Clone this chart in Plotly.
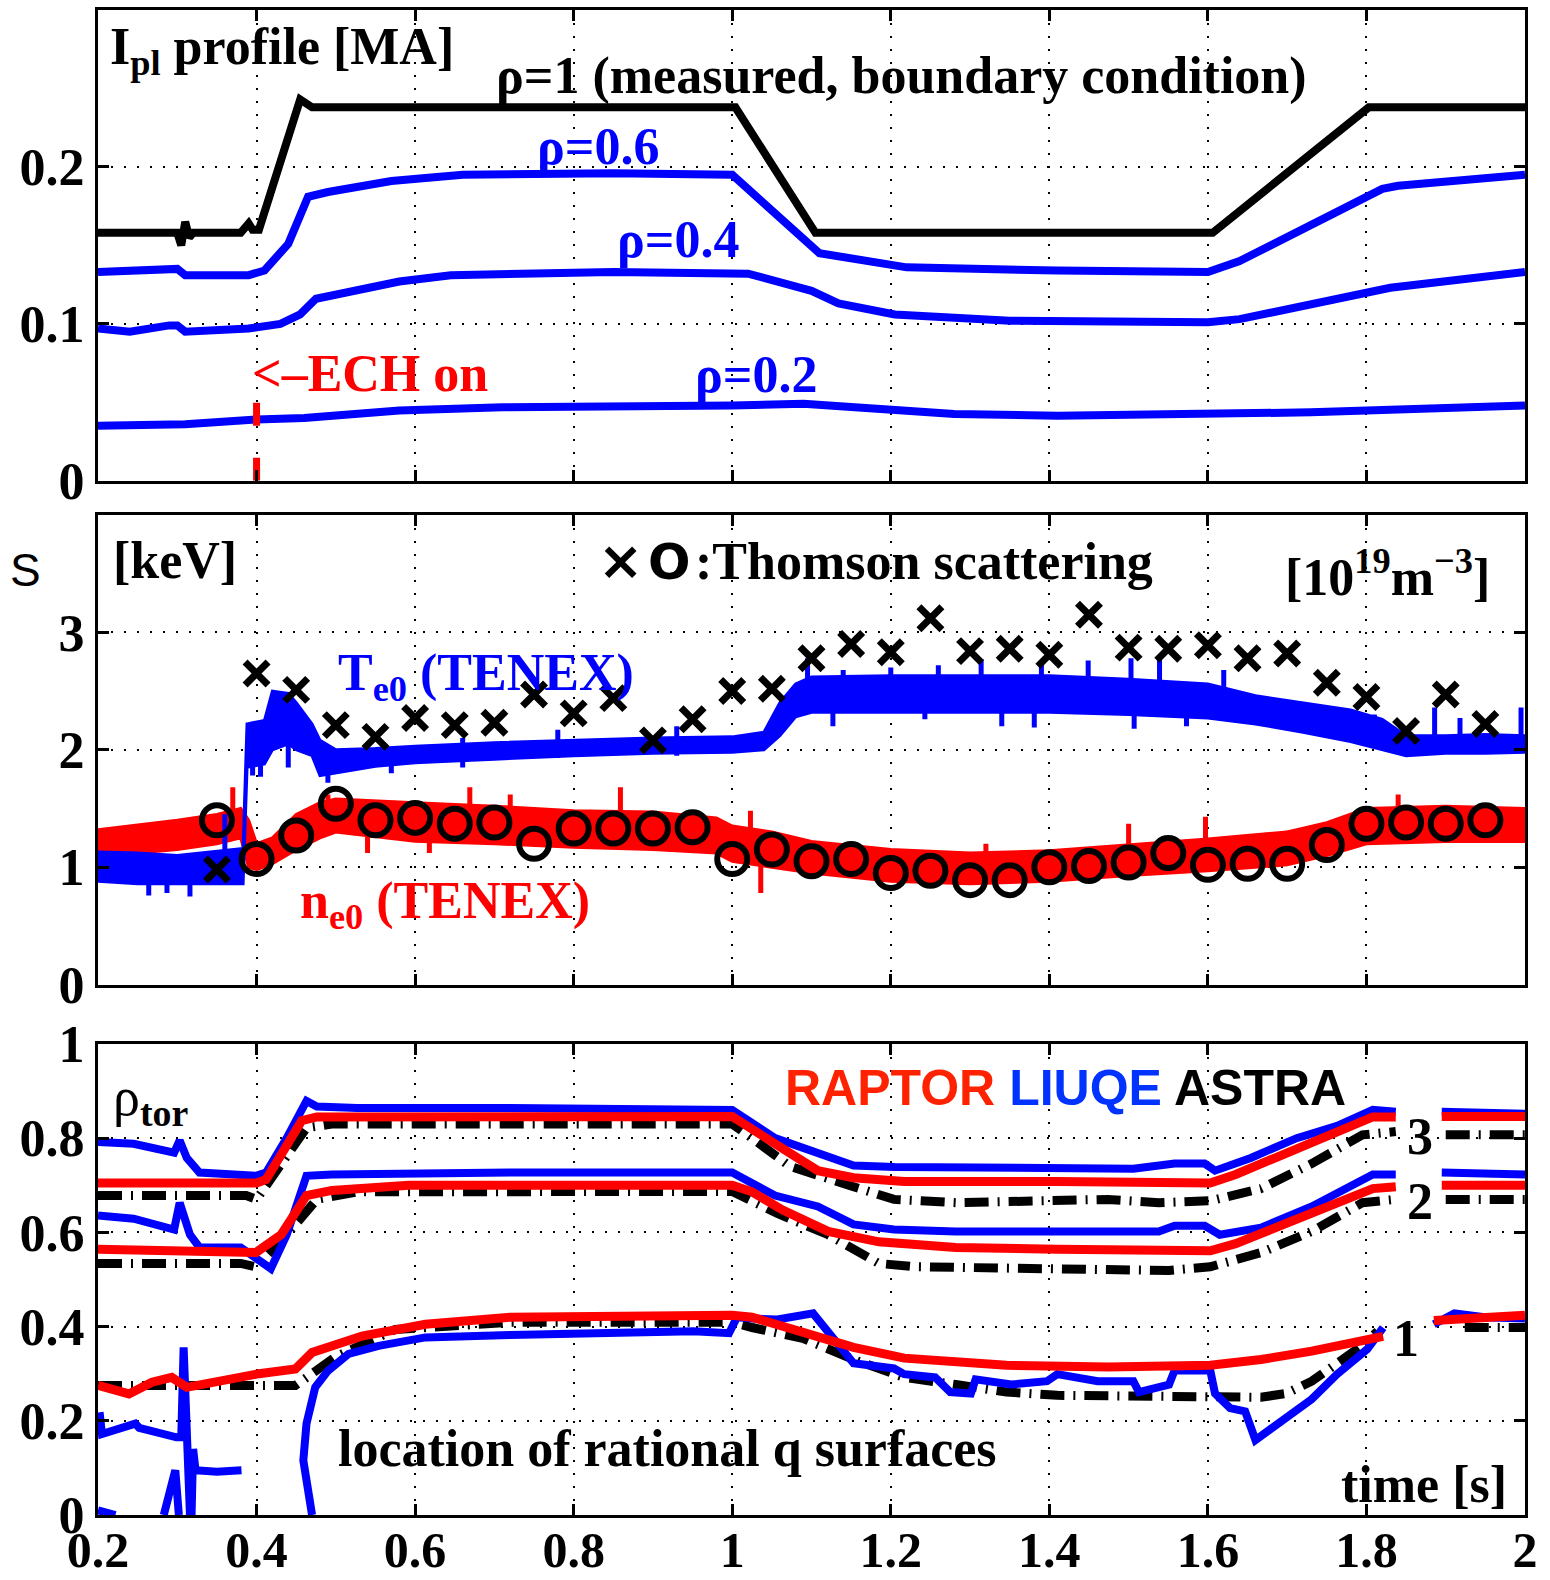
import plotly.graph_objects as go

# ---------------- Panel 1 : current profile [MA] ----------------
rho1_t = [0.20, 0.30, 0.305, 0.31, 0.315, 0.32, 0.38, 0.39, 0.395, 0.403, 0.455, 0.47, 1.004, 1.105, 1.606, 1.803, 2.00]
rho1_v = [0.158, 0.158, 0.150, 0.165, 0.155, 0.158, 0.158, 0.164, 0.160, 0.160, 0.243, 0.238, 0.238, 0.158, 0.158, 0.238, 0.238]

rho06_t = [0.20, 0.30, 0.31, 0.32, 0.39, 0.41, 0.44, 0.465, 0.49, 0.57, 0.66, 0.85, 1.00, 1.11, 1.22, 1.41, 1.60, 1.64, 1.82, 1.84, 2.00]
rho06_v = [0.133, 0.135, 0.131, 0.131, 0.131, 0.134, 0.151, 0.181, 0.184, 0.191, 0.195, 0.196, 0.195, 0.145, 0.136, 0.134, 0.133, 0.140, 0.186, 0.188, 0.195]

rho04_t = [0.20, 0.24, 0.29, 0.30, 0.31, 0.39, 0.43, 0.455, 0.475, 0.52, 0.58, 0.645, 0.85, 1.02, 1.10, 1.134, 1.205, 1.35, 1.60, 1.64, 1.80, 1.83, 2.00]
rho04_v = [0.097, 0.095, 0.099, 0.099, 0.095, 0.097, 0.100, 0.106, 0.116, 0.121, 0.127, 0.131, 0.133, 0.132, 0.121, 0.113, 0.106, 0.102, 0.101, 0.103, 0.119, 0.123, 0.133]

rho02_t = [0.20, 0.26, 0.31, 0.40, 0.46, 0.58, 0.71, 1.00, 1.09, 1.15, 1.28, 1.41, 1.73, 2.00]
rho02_v = [0.035, 0.035, 0.036, 0.039, 0.040, 0.0447, 0.0468, 0.048, 0.049, 0.047, 0.0426, 0.0415, 0.0436, 0.048]

ech_t = [0.40, 0.40]
ech_v = [0.0, 0.05]

# ---------------- Panel 2 : central Te [keV] and ne [1e19 m^-3] ----------------
te_t  = [0.20, 0.25, 0.30, 0.35, 0.375, 0.383, 0.388, 0.41, 0.42, 0.44, 0.45, 0.47, 0.48, 0.50, 0.55, 0.60, 0.70, 0.80, 0.90, 1.00, 1.04, 1.06, 1.08, 1.10, 1.20, 1.30, 1.40, 1.50, 1.60, 1.66, 1.72, 1.78, 1.82, 1.85, 1.90, 1.95, 2.00]
te_lo = [0.88, 0.86, 0.86, 0.86, 0.86, 0.86, 1.85, 1.88, 2.00, 2.05, 2.00, 1.95, 1.78, 1.80, 1.86, 1.89, 1.92, 1.95, 1.97, 1.98, 2.00, 2.12, 2.28, 2.32, 2.32, 2.32, 2.32, 2.30, 2.27, 2.22, 2.15, 2.07, 2.00, 1.95, 1.97, 1.97, 1.98]
te_hi = [1.13, 1.12, 1.10, 1.14, 1.16, 1.16, 2.22, 2.25, 2.50, 2.48, 2.40, 2.22, 2.08, 2.00, 2.01, 2.03, 2.06, 2.08, 2.10, 2.11, 2.15, 2.40, 2.56, 2.62, 2.63, 2.63, 2.63, 2.60, 2.56, 2.46, 2.40, 2.34, 2.26, 2.12, 2.12, 2.13, 2.12]

te_spk_t  = [0.264, 0.287, 0.316, 0.36, 0.395, 0.405, 0.44, 0.49, 0.57, 0.66, 0.78, 0.93, 1.095, 1.14, 1.20, 1.26, 1.314, 1.39, 1.449, 1.503, 1.539, 1.127, 1.243, 1.34, 1.381, 1.507, 1.573, 1.62, 1.81, 1.886, 1.918, 1.995]
te_spk_lo = [0.76, 0.78, 0.75, 0.95, 1.78, 1.77, 1.85, 1.72, 1.80, 1.85, 1.93, 1.95, 2.40, 2.40, 2.40, 2.40, 2.40, 2.40, 2.40, 2.40, 2.40, 2.20, 2.26, 2.20, 2.19, 2.18, 2.20, 2.40, 2.10, 2.05, 2.05, 2.05]
te_spk_hi = [1.00, 1.00, 1.00, 1.45, 2.10, 2.10, 2.20, 1.95, 1.95, 2.10, 2.17, 2.20, 2.78, 2.68, 2.70, 2.72, 2.77, 2.73, 2.76, 2.78, 2.80, 2.40, 2.40, 2.40, 2.40, 2.40, 2.40, 2.68, 2.30, 2.36, 2.27, 2.36]

ne_t  = [0.20, 0.25, 0.30, 0.35, 0.38, 0.39, 0.40, 0.42, 0.45, 0.48, 0.50, 0.60, 0.70, 0.80, 0.90, 0.98, 1.00, 1.05, 1.10, 1.20, 1.30, 1.40, 1.50, 1.60, 1.70, 1.75, 1.80, 1.90, 2.00]
ne_lo = [1.08, 1.12, 1.15, 1.20, 1.25, 1.00, 0.98, 1.03, 1.15, 1.25, 1.30, 1.22, 1.20, 1.17, 1.15, 1.12, 1.05, 1.00, 0.95, 0.88, 0.86, 0.88, 0.93, 0.97, 1.02, 1.10, 1.20, 1.22, 1.22]
ne_hi = [1.32, 1.36, 1.40, 1.45, 1.50, 1.40, 1.20, 1.25, 1.45, 1.55, 1.58, 1.55, 1.52, 1.48, 1.47, 1.42, 1.35, 1.30, 1.22, 1.15, 1.12, 1.14, 1.19, 1.24, 1.30, 1.38, 1.50, 1.52, 1.50]

ne_spk_t  = [0.37, 0.49, 0.54, 0.618, 0.669, 0.72, 0.859, 1.023, 1.036, 1.32, 1.50, 1.597, 1.70, 1.84]
ne_spk_lo = [1.35, 1.35, 1.12, 1.12, 1.35, 1.35, 1.30, 1.20, 0.78, 1.00, 1.05, 1.10, 1.15, 1.35]
ne_spk_hi = [1.68, 1.62, 1.40, 1.40, 1.68, 1.62, 1.68, 1.48, 1.15, 1.20, 1.37, 1.43, 1.31, 1.62]

th_t  = [0.35, 0.40, 0.45, 0.50, 0.55, 0.60, 0.65, 0.70, 0.75, 0.80, 0.85, 0.90, 0.95, 1.00, 1.05, 1.10, 1.15,
         1.20, 1.25, 1.30, 1.35, 1.40, 1.45, 1.50, 1.55, 1.60, 1.65, 1.70, 1.75, 1.80, 1.85, 1.90, 1.95]
th_te = [0.98, 2.65, 2.51, 2.21, 2.11, 2.27, 2.21, 2.23, 2.47, 2.31, 2.44, 2.08, 2.26, 2.50, 2.52, 2.78, 2.90,
         2.83, 3.12, 2.84, 2.86, 2.81, 3.15, 2.87, 2.86, 2.89, 2.78, 2.82, 2.57, 2.45, 2.16, 2.47, 2.22]
th_ne = [1.40, 1.07, 1.27, 1.54, 1.40, 1.42, 1.37, 1.38, 1.20, 1.33, 1.33, 1.33, 1.34, 1.07, 1.15, 1.05, 1.07,
         0.95, 0.97, 0.89, 0.89, 1.00, 1.01, 1.04, 1.12, 1.02, 1.03, 1.03, 1.19, 1.37, 1.38, 1.37, 1.40]

# ---------------- Panel 3 : rho_tor of rational q surfaces ----------------
q3_liuqe_t = [0.20, 0.245, 0.296, 0.303, 0.312, 0.328, 0.399, 0.412, 0.438, 0.463, 0.476, 0.527, 0.72, 0.85, 1.00, 1.054, 1.108, 1.153, 1.205, 1.314, 1.41, 1.506, 1.558, 1.596, 1.609, 1.654, 1.712, 1.763, 1.808, 1.837, None, 1.895, 1.95, 2.00]
q3_liuqe_v = [0.792, 0.788, 0.769, 0.795, 0.758, 0.727, 0.720, 0.727, 0.800, 0.879, 0.867, 0.864, 0.864, 0.864, 0.860, 0.800, 0.769, 0.742, 0.739, 0.739, 0.739, 0.735, 0.746, 0.746, 0.731, 0.758, 0.800, 0.826, 0.860, 0.856, None, 0.856, 0.852, 0.852]
q3_raptor_t = [0.20, 0.40, 0.412, 0.438, 0.457, 0.476, 1.00, 1.054, 1.108, 1.153, 1.217, 1.41, 1.603, 1.635, 1.731, 1.808, 1.837, None, 1.895, 2.00]
q3_raptor_v = [0.705, 0.705, 0.712, 0.784, 0.837, 0.845, 0.846, 0.788, 0.731, 0.716, 0.708, 0.708, 0.705, 0.723, 0.792, 0.845, 0.845, None, 0.846, 0.846]
q3_astra_t = [0.20, 0.387, 0.40, 0.426, 0.463, 0.495, 1.00, 1.025, 1.073, 1.153, 1.204, 1.282, 1.474, 1.538, 1.603, 1.667, 1.731, 1.795, 1.837, None, 1.90, 2.00]
q3_astra_v = [0.678, 0.678, 0.670, 0.731, 0.822, 0.830, 0.830, 0.800, 0.740, 0.697, 0.670, 0.663, 0.670, 0.663, 0.667, 0.693, 0.746, 0.807, 0.814, None, 0.807, 0.807]

q2_liuqe_t = [0.20, 0.245, 0.296, 0.303, 0.316, 0.328, 0.38, 0.399, 0.418, 0.438, 0.463, 0.495, 0.72, 1.00, 1.054, 1.108, 1.153, 1.204, 1.282, 1.538, 1.558, 1.596, 1.615, 1.667, 1.731, 1.808, 1.837, None, 1.895, 1.949, 2.00]
q2_liuqe_v = [0.636, 0.629, 0.606, 0.663, 0.595, 0.568, 0.568, 0.545, 0.523, 0.595, 0.720, 0.723, 0.727, 0.727, 0.678, 0.655, 0.617, 0.606, 0.602, 0.602, 0.614, 0.614, 0.595, 0.610, 0.655, 0.723, 0.723, None, 0.727, 0.723, 0.723]
q2_raptor_t = [0.20, 0.27, 0.335, 0.399, 0.431, 0.463, 0.495, 0.592, 1.00, 1.025, 1.063, 1.121, 1.185, 1.282, 1.41, 1.603, 1.635, 1.731, 1.808, 1.837, None, 1.895, 2.00]
q2_raptor_v = [0.564, 0.561, 0.557, 0.557, 0.595, 0.678, 0.689, 0.700, 0.700, 0.686, 0.648, 0.602, 0.580, 0.568, 0.564, 0.561, 0.576, 0.640, 0.693, 0.697, None, 0.700, 0.700]
q2_astra_t = [0.20, 0.38, 0.399, 0.438, 0.476, 0.527, 1.00, 1.057, 1.121, 1.185, 1.230, 1.346, 1.474, 1.551, 1.603, 1.667, 1.731, 1.795, 1.837, None, 1.90, 2.00]
q2_astra_v = [0.534, 0.534, 0.527, 0.595, 0.670, 0.686, 0.687, 0.640, 0.595, 0.534, 0.527, 0.523, 0.523, 0.519, 0.527, 0.557, 0.602, 0.663, 0.670, None, 0.670, 0.670]

q1_liuqe_t = [0.200, 0.21, 0.222, None,
              0.202, 0.205, 0.247, 0.252, 0.299, 0.305, 0.308, 0.312, 0.316, None,
              0.283, 0.2975, 0.302, None,
              0.318, 0.320, 0.323, 0.35, 0.381, None,
              0.470, 0.463, 0.459, 0.463, 0.474, 0.490, 0.516, 0.554, 0.613, 0.72, 0.848, 0.951, 0.996, 1.006, 1.025, 1.057, 1.102, 1.153,
              1.204, 1.217, 1.256, 1.275, 1.301, 1.307, 1.352, 1.397, 1.41, 1.461, 1.506, 1.513, 1.551, 1.558, 1.603, 1.609, 1.628, 1.647,
              1.660, 1.699, 1.731, 1.763, 1.801, 1.821, None, 1.885, 1.911, 1.949, 2.00]
q1_liuqe_v = [0.010, 0.006, 0.0, None,
              0.218, 0.172, 0.194, 0.185, 0.165, 0.165, 0.356, 0.165, 0.0, None,
              0.0, 0.095, 0.0, None,
              0.0, 0.140, 0.095, 0.092, 0.095, None,
              0.0, 0.074, 0.116, 0.194, 0.271, 0.306, 0.342, 0.359, 0.377, 0.382, 0.386, 0.390, 0.386, 0.420, 0.417, 0.415, 0.428, 0.322,
              0.311, 0.299, 0.292, 0.261, 0.258, 0.288, 0.277, 0.284, 0.299, 0.284, 0.284, 0.261, 0.277, 0.307, 0.307, 0.258, 0.227, 0.220,
              0.159, 0.208, 0.246, 0.299, 0.352, 0.398, None, 0.405, 0.428, 0.420, 0.417]
q1_raptor_t = [0.20, 0.239, 0.268, 0.293, 0.312, 0.365, 0.403, 0.449, 0.47, 0.533, 0.613, 0.72, 0.848, 1.00, 1.025, 1.089, 1.153, 1.217, 1.346, 1.474, 1.603, 1.667, 1.731, 1.821, None, 1.885, 2.00]
q1_raptor_v = [0.275, 0.257, 0.282, 0.292, 0.271, 0.289, 0.300, 0.310, 0.345, 0.380, 0.405, 0.420, 0.424, 0.424, 0.420, 0.390, 0.356, 0.333, 0.318, 0.314, 0.318, 0.330, 0.348, 0.379, None, 0.413, 0.424]
q1_astra_t = [0.20, 0.449, 0.499, 0.575, 0.72, 1.00, 1.025, 1.089, 1.153, 1.217, 1.282, 1.346, 1.41, 1.538, 1.667, 1.699, 1.731, 1.795, 1.814, None, 1.924, 2.00]
q1_astra_v = [0.275, 0.275, 0.335, 0.394, 0.409, 0.409, 0.398, 0.375, 0.330, 0.292, 0.277, 0.261, 0.254, 0.250, 0.250, 0.258, 0.284, 0.360, 0.390, None, 0.398, 0.398]

time_ticks = [0.2, 0.4, 0.6, 0.8, 1.0, 1.2, 1.4, 1.6, 1.8, 2.0]
time_ticktext = ["0.2", "0.4", "0.6", "0.8", "1", "1.2", "1.4", "1.6", "1.8", "2"]

# ---------------- styling ----------------
BLUE = "#0000FF"
RED = "#FF0000"
SERIF = "Liberation Serif"
SANS = "Liberation Sans"
FS = 52

fig = go.Figure()


def line(x, y, color, width, xa, ya, dash="solid"):
    fig.add_trace(go.Scatter(x=x, y=y, mode="lines", xaxis=xa, yaxis=ya,
                             line=dict(color=color, width=width, dash=dash),
                             connectgaps=False, showlegend=False, hoverinfo="skip"))


def band(t, lo, hi, color, xa, ya):
    fig.add_trace(go.Scatter(x=list(t) + list(t)[::-1], y=list(hi) + list(lo)[::-1],
                             mode="lines", fill="toself", fillcolor=color,
                             line=dict(color=color, width=3), xaxis=xa, yaxis=ya,
                             showlegend=False, hoverinfo="skip"))


def spikes(t, lo, hi, color, xa, ya):
    xs, ys = [], []
    for tt, a, b in zip(t, lo, hi):
        xs += [tt, tt, None]
        ys += [a, b, None]
    fig.add_trace(go.Scatter(x=xs, y=ys, mode="lines", xaxis=xa, yaxis=ya,
                             line=dict(color=color, width=5), connectgaps=False,
                             showlegend=False, hoverinfo="skip"))


# panel 1
line(rho02_t, rho02_v, BLUE, 8, "x", "y")
line(rho04_t, rho04_v, BLUE, 8, "x", "y")
line(rho06_t, rho06_v, BLUE, 8, "x", "y")
line(rho1_t, rho1_v, "black", 8, "x", "y")
line(ech_t, ech_v, RED, 7, "x", "y", dash="23px,32px")

# panel 2
band(ne_t, ne_lo, ne_hi, RED, "x2", "y2")
spikes(ne_spk_t, ne_spk_lo, ne_spk_hi, RED, "x2", "y2")
band(te_t, te_lo, te_hi, BLUE, "x2", "y2")
spikes(te_spk_t, te_spk_lo, te_spk_hi, BLUE, "x2", "y2")
fig.add_trace(go.Scatter(x=th_t, y=th_te, mode="markers", xaxis="x2", yaxis="y2",
                         marker=dict(symbol="x-thin", size=23, color="black",
                                     line=dict(color="black", width=7)),
                         showlegend=False, hoverinfo="skip"))
fig.add_trace(go.Scatter(x=th_t, y=th_ne, mode="markers", xaxis="x2", yaxis="y2",
                         marker=dict(symbol="circle-open", size=30, color="black",
                                     line=dict(color="black", width=6)),
                         showlegend=False, hoverinfo="skip"))

# panel 3
ASTRA_DASH = "24px,9px,2px,9px"
for t, v in [(q3_astra_t, q3_astra_v), (q2_astra_t, q2_astra_v), (q1_astra_t, q1_astra_v)]:
    line(t, v, "black", 9, "x3", "y3", dash=ASTRA_DASH)
for t, v in [(q3_liuqe_t, q3_liuqe_v), (q2_liuqe_t, q2_liuqe_v), (q1_liuqe_t, q1_liuqe_v)]:
    line(t, v, BLUE, 8, "x3", "y3")
for t, v in [(q3_raptor_t, q3_raptor_v), (q2_raptor_t, q2_raptor_v), (q1_raptor_t, q1_raptor_v)]:
    line(t, v, RED, 9, "x3", "y3")

# ---------------- axes ----------------
grid = dict(showgrid=True, gridcolor="black", gridwidth=1.5, griddash="2px,11px",
            showline=True, linecolor="black", linewidth=3, mirror="ticks",
            ticks="inside", ticklen=11, tickwidth=2.5, tickcolor="black",
            zeroline=False, automargin=False,
            tickfont=dict(family=SERIF, size=FS, color="black", weight="bold"))

xcommon = dict(grid, range=[0.2, 2.0], tickvals=time_ticks, ticktext=time_ticktext)

fig.update_layout(
    width=1550, height=1580,
    margin=dict(l=98, r=25, t=10, b=65, autoexpand=False),
    paper_bgcolor="white", plot_bgcolor="white",
    xaxis=dict(xcommon, anchor="y", matches="x3", showticklabels=False),
    xaxis2=dict(xcommon, anchor="y2", matches="x3", showticklabels=False),
    xaxis3=dict(xcommon, anchor="y3", showticklabels=True, ticklabelstandoff=-11,
                tickfont=dict(family=SERIF, size=50, color="black", weight="bold")),
    yaxis=dict(grid, domain=[0.6872, 1.0], range=[0, 0.3], tickvals=[0, 0.1, 0.2],
               ticktext=["0", "0.1", "0.2"], anchor="x"),
    yaxis2=dict(grid, domain=[0.3524, 0.6645], range=[0, 4], tickvals=[0, 1, 2, 3],
                ticktext=["0", "1", "2", "3"], anchor="x2"),
    yaxis3=dict(grid, domain=[0.0, 0.3130], range=[0, 1], tickvals=[0, 0.2, 0.4, 0.6, 0.8, 1.0],
                ticktext=["0", "0.2", "0.4", "0.6", "0.8", "1"], anchor="x3"),
)


def ann(text, x, y, xref, yref, color="black", size=FS, family=SERIF, xanchor="left",
        yanchor="middle", weight="bold"):
    fig.add_annotation(text=text, x=x, y=y, xref=xref, yref=yref, showarrow=False,
                       xanchor=xanchor, yanchor=yanchor,
                       font=dict(family=family, size=size, color=color, weight=weight))


# panel 1 labels
ann("I<sub>pl</sub> profile [MA]", 0.212, 0.274, "x", "y")
ann("ρ=1 (measured, boundary condition)", 0.699, 0.2577, "x", "y")
ann("ρ=0.6", 0.751, 0.2128, "x", "y", color=BLUE)
ann("ρ=0.4", 0.852, 0.1538, "x", "y", color=BLUE)
ann("ρ=0.2", 0.951, 0.068, "x", "y", color=BLUE)
ann("&lt;–ECH on", 0.392, 0.0686, "x", "y", color=RED)

# panel 2 labels
ann("S", -0.063, 3.53, "paper", "y2", family=SANS, size=46, weight="normal")
ann("[keV]", 0.217, 3.61, "x2", "y2")
ann("×", 0.8586, 3.61, "x2", "y2", family="DejaVu Sans", size=54, xanchor="center")
ann("O", 0.921, 3.60, "x2", "y2", family="DejaVu Sans", size=50, xanchor="center")
ann(":Thomson scattering", 0.950, 3.60, "x2", "y2")
ann("[10<sup>19</sup>m<sup>−3</sup>]", 1.695, 3.50, "x2", "y2")
ann("T<sub>e0</sub> (TENEX)", 0.50, 2.62, "x2", "y2", color=BLUE)
ann("n<sub>e0</sub> (TENEX)", 0.452, 0.68, "x2", "y2", color=RED)

# panel 3 labels
ann("ρ<sub><b>tor</b></sub>", 0.217, 0.88, "x3", "y3", weight="normal", size=54)
ann("<span style='color:#FF2200'>RAPTOR</span> <span style='color:#0033FF'>LIUQE</span> ASTRA",
    1.064, 0.906, "x3", "y3", family=SANS, size=50)
ann("location of rational q surfaces", 0.50, 0.141, "x3", "y3")
ann("time [s]", 1.98, 0.064, "x3", "y3", xanchor="right")
ann("3", 1.867, 0.803, "x3", "y3", xanchor="center")
ann("2", 1.867, 0.666, "x3", "y3", xanchor="center")
ann("1", 1.850, 0.375, "x3", "y3", xanchor="center")

fig.write_html("out.html")
